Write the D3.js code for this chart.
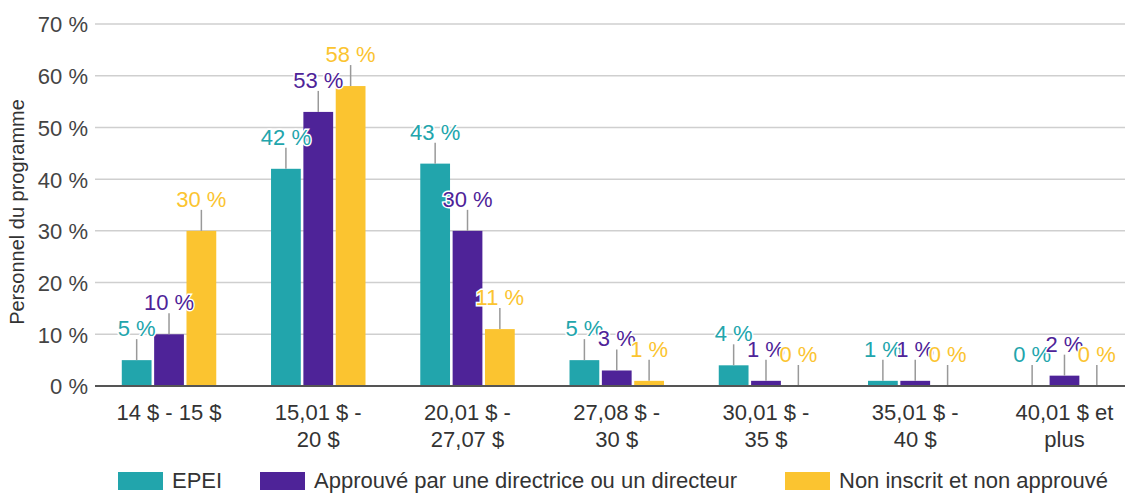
<!DOCTYPE html>
<html>
<head>
<meta charset="utf-8">
<script src="https://cdn.jsdelivr.net/npm/d3@7"></script>
<style>
  body { margin: 0; background: #fff; }
  svg text { font-family: "Liberation Sans", Arial, sans-serif; }
</style>
</head>
<body>
<div id="chart"></div>
<script>
// categories (line breaks as in the picture)
var categories = ["14 $ - 15 $", "15,01 $ -\n20 $", "20,01 $ -\n27,07 $", "27,08 $ -\n30 $",
                  "30,01 $ -\n35 $", "35,01 $ -\n40 $", "40,01 $ et\nplus"];
var seriesNames = ["EPEI", "Approuvé par une directrice ou un directeur", "Non inscrit et non approuvé"];
var seriesColors = ["#22a5ac", "#4e2398", "#fbc430"];
var epei = [5, 42, 43, 5, 4, 1, 0];
var approuve = [10, 53, 30, 3, 1, 1, 2];
var nonInscrit = [30, 58, 11, 1, 0, 0, 0];
var yTicks = [0, 10, 20, 30, 40, 50, 60, 70];
var yTitle = "Personnel du programme";

var width = 1125, height = 493;
var values = [epei, approuve, nonInscrit];

var svg = d3.select("#chart").append("svg")
            .attr("width", width)
            .attr("height", height);

var x0 = d3.scaleBand()
           .domain(categories)
           .range([94.4, 1139.1])
           .paddingInner(0.367)
           .paddingOuter(0.1835);

var x1 = d3.scaleBand()
           .domain(d3.range(seriesNames.length))
           .range([0, x0.bandwidth()])
           .paddingInner(0.08);

var y = d3.scaleLinear().domain([0, 70]).range([386, 24]);

//grille horizontale
svg.append("g").selectAll("line")
   .data(yTicks.filter(function(t){ return t > 0; }))
   .enter().append("line")
   .attr("x1", 95).attr("x2", width)
   .attr("y1", function(d){ return y(d); })
   .attr("y2", function(d){ return y(d); })
   .attr("stroke", "#cfcfcf")
   .attr("stroke-width", 1.5);

//etiquettes de l'axe Y
var yAxis = d3.axisLeft(y).tickValues(yTicks).tickSize(0).tickPadding(0)
              .tickFormat(function(d){ return d + " %"; });
var gy = svg.append("g").attr("transform", "translate(88,0)").call(yAxis);
gy.select(".domain").remove();
gy.selectAll("text")
  .attr("font-size", 22)
  .attr("fill", "#444")
  .attr("dy", "0.36em")
  .style("font-family", "'Liberation Sans', Arial, sans-serif");

//titre de l'axe Y
svg.append("text")
   .attr("transform", "translate(24,212) rotate(-90)")
   .attr("text-anchor", "middle")
   .attr("font-size", 20)
   .attr("fill", "#333")
   .text(yTitle);

//barres
var groups = svg.append("g").selectAll("g")
   .data(categories)
   .enter().append("g")
   .attr("transform", function(d){ return "translate(" + x0(d) + ",0)"; });

var cells = groups.selectAll("g")
   .data(function(d, i){
     return values.map(function(v, s){ return {s: s, v: v[i]}; });
   })
   .enter().append("g");

cells.append("rect")
   .attr("x", function(d){ return x1(d.s); })
   .attr("width", x1.bandwidth())
   .attr("y", function(d){ return y(d.v); })
   .attr("height", function(d){ return y(0) - y(d.v); })
   .attr("fill", function(d){ return seriesColors[d.s]; });

//ligne de rappel
cells.append("line")
   .attr("x1", function(d){ return x1(d.s) + x1.bandwidth() / 2; })
   .attr("x2", function(d){ return x1(d.s) + x1.bandwidth() / 2; })
   .attr("y1", function(d){ return y(d.v); })
   .attr("y2", function(d){ return y(d.v) - 21; })
   .attr("stroke", "#999")
   .attr("stroke-width", 1.5);

//axe zero
svg.append("line")
   .attr("x1", 95).attr("x2", width)
   .attr("y1", y(0)).attr("y2", y(0))
   .attr("stroke", "#555")
   .attr("stroke-width", 2);

//etiquettes de valeur
groups.selectAll("text.val")
   .data(function(d, i){
     return values.map(function(v, s){ return {s: s, v: v[i]}; });
   })
   .enter().append("text")
   .attr("class", "val")
   .attr("x", function(d){ return x1(d.s) + x1.bandwidth() / 2; })
   .attr("y", function(d){ return y(d.v) - 24; })
   .attr("text-anchor", "middle")
   .attr("font-size", 22)
   .attr("fill", function(d){ return seriesColors[d.s]; })
   .attr("stroke", "#fff")
   .attr("stroke-width", 3)
   .attr("paint-order", "stroke")
   .text(function(d){ return d.v + " %"; });

//etiquettes de l'axe X
var xl = svg.append("g").selectAll("text")
   .data(categories)
   .enter().append("text")
   .attr("x", function(d){ return x0(d) + x0.bandwidth() / 2; })
   .attr("y", 420)
   .attr("text-anchor", "middle")
   .attr("font-size", 22)
   .attr("fill", "#333");

xl.selectAll("tspan")
  .data(function(d){ return d.split("\n"); })
  .enter().append("tspan")
  .attr("x", function(){ return d3.select(this.parentNode).attr("x"); })
  .attr("dy", function(d, i){ return i === 0 ? 0 : 27; })
  .text(function(d){ return d; });

//legende
var legendX = [118, 260, 785];
var legend = svg.append("g").selectAll("g")
   .data(seriesNames)
   .enter().append("g")
   .attr("transform", function(d, i){ return "translate(" + legendX[i] + ",472)"; });

legend.append("rect")
   .attr("width", 45).attr("height", 18)
   .attr("fill", function(d, i){ return seriesColors[i]; });

legend.append("text")
   .attr("x", 54).attr("y", 16)
   .attr("font-size", 22)
   .attr("fill", "#333")
   .text(function(d){ return d; });
</script>
</body>
</html>
